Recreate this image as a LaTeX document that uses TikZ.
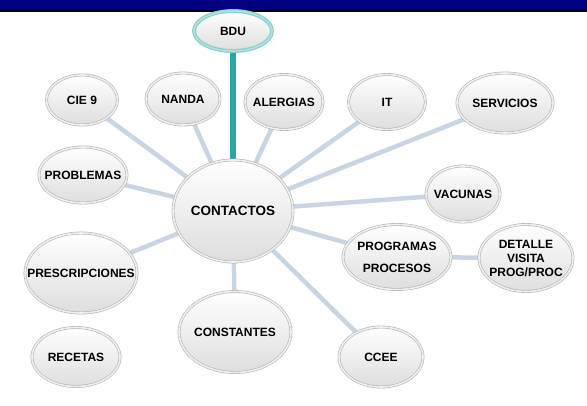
\documentclass[tikz,border=0pt]{standalone}
\usepackage{fontspec}
\setmainfont{Liberation Sans}
\usetikzlibrary{shapes.geometric,backgrounds}
\definecolor{barnavy}{HTML}{000080}
\definecolor{linkgray}{HTML}{C9D5E3}
\definecolor{bduteal}{HTML}{2AA6A6}
\tikzset{
  bubble/.style={ellipse, draw=gray!60, line width=0.6pt, double=gray!12,
    double distance=1.6pt, top color=white, bottom color=gray!26,
    inner xsep=-80pt, inner ysep=-60pt, align=center,
    font=\bfseries\fontsize{12}{13}\selectfont},
  link/.style={draw=linkgray, line width=4.5pt},
}
\begin{document}
\begin{tikzpicture}[x=1pt,y=-1pt]
      \useasboundingbox (0,0) rectangle (587,405);
      \fill[barnavy] (0,0) rectangle (587,10);
      \fill[black] (0,10) rectangle (587,12);
      \node[bubble, draw=bduteal!55, double=bduteal!35, line width=1.2pt, double distance=1.5pt, minimum width=78, minimum height=40] (bdu) at (233,31) {BDU};
      \node[bubble, minimum width=71, minimum height=50] (cie9) at (82,100) {CIE 9};
      \node[bubble, minimum width=74, minimum height=52] (nanda) at (183,99) {NANDA};
      \node[bubble, minimum width=78, minimum height=55] (alergias) at (284,102) {ALERGIAS};
      \node[bubble, minimum width=77, minimum height=55] (it) at (387,102) {IT};
      \node[bubble, minimum width=96, minimum height=60] (servicios) at (505,103) {SERVICIOS};
      \node[bubble, minimum width=88, minimum height=56] (problemas) at (83,175) {PROBLEMAS};
      \node[bubble, minimum width=120, minimum height=102, font=\bfseries\fontsize{13.5}{15}\selectfont] (contactos) at (233,211) {CONTACTOS};
      \node[bubble, minimum width=74, minimum height=56] (vacunas) at (463,194) {VACUNAS};
      \node[bubble, minimum width=108, minimum height=65, font=\bfseries\fontsize{12}{22}\selectfont] (programas) at (397,257) {PROGRAMAS\\PROCESOS};
      \node[bubble, minimum width=94, minimum height=67, font=\bfseries\fontsize{12}{14}\selectfont] (detalle) at (526,258) {DETALLE\\VISITA\\PROG/PROC};
      \node[bubble, minimum width=112, minimum height=80] (prescripciones) at (81,273) {PRESCRIPCIONES};
      \node[bubble, minimum width=112, minimum height=81] (constantes) at (235,332) {CONSTANTES};
      \node[bubble, minimum width=84, minimum height=60] (ccee) at (381,357) {CCEE};
      \node[bubble, minimum width=88, minimum height=59] (recetas) at (76,357) {RECETAS};
      \begin{pgfonlayer}{background}
      \begin{scope}[link]
        \draw (contactos) to (cie9);
        \draw (contactos) to (nanda);
        \draw (contactos) to (alergias);
        \draw (contactos) to (it);
        \draw (contactos) to (servicios);
        \draw (contactos) to (problemas);
        \draw (contactos) to (vacunas);
        \draw (contactos) to (programas);
        \draw (contactos) to (prescripciones);
        \draw (contactos) to (constantes);
        \draw (contactos) to (ccee);
        \draw (programas) to (detalle);
        \draw[bduteal, line width=6pt] (bdu) to (contactos);
      \end{scope}
      \end{pgfonlayer}
    \end{tikzpicture}
\end{document}
